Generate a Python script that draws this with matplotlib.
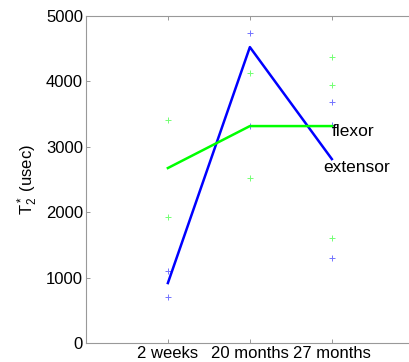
import numpy as np
import matplotlib
matplotlib.use('Agg')
import matplotlib.pyplot as plt

plt.rcParams['font.family'] = ['Liberation Sans', 'DejaVu Sans']
plt.rcParams['mathtext.fontset'] = 'custom'
plt.rcParams['mathtext.rm'] = 'Liberation Sans'
plt.rcParams['mathtext.it'] = 'Liberation Sans'

groups = ['2 weeks', '20 months', '27 months']
group_x = [1, 2, 3]

# mean lines
extensor_mean = [917, 4526, 2813]
flexor_mean = [2676, 3318, 3318]

# individual samples
ext_pts_x = [1, 1, 2, 2, 3, 3, 3]
ext_pts_y = [1106, 703, 4740, 3318, 3685, 3330, 1305]
flx_pts_x = [1, 1, 2, 2, 3, 3, 3]
flx_pts_y = [3410, 1931, 4128, 2523, 4373, 3950, 1606]

fig = plt.figure(figsize=(4.09, 3.62), dpi=100)
ax = fig.add_axes([0.210, 0.0525, 0.862, 0.903])

ax.plot(ext_pts_x, ext_pts_y, '+', color=(0.45, 0.45, 1.0), ms=4, mew=0.7)
ax.plot(flx_pts_x, flx_pts_y, '+', color=(0.45, 1.0, 0.45), ms=4, mew=0.7)
ax.plot(group_x, extensor_mean, color=(0, 0, 1), lw=1.8)
ax.plot(group_x, flexor_mean, color=(0, 1, 0), lw=1.8)

ax.text(3.0, 3240, 'flexor', fontsize=12.5, va='center', ha='left')
ax.text(2.9, 2680, 'extensor', fontsize=12.5, va='center', ha='left')

ax.set_xlim(0, 4.3)
ax.set_ylim(0, 5000)
ax.set_xticks(group_x)
ax.set_xticklabels(groups, fontsize=12.5)
ax.set_yticks(np.arange(0, 5001, 1000))
ax.set_ylabel(r'T$_2^*$ (usec)', fontsize=12, labelpad=4)
ax.tick_params(direction='in', top=True, right=True, labelsize=12,
               color='#888888', length=3, width=0.6, pad=2)
for s in ax.spines.values():
    s.set_color('#999999')
    s.set_linewidth(0.8)

fig.savefig('out.png', dpi=100)
